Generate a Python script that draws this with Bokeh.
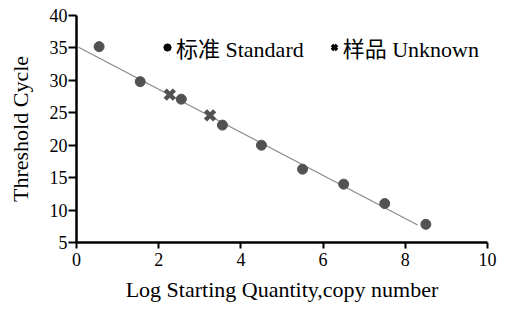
from bokeh.plotting import figure
from bokeh.models import Range1d, FixedTicker, ColumnDataSource, Legend, LegendItem
from bokeh.embed import file_html
from bokeh.resources import INLINE

# Standard curve points
std_x = [0.55, 1.55, 2.55, 3.55, 4.5, 5.5, 6.5, 7.5, 8.5]
std_y = [35.2, 29.8, 27.1, 23.1, 20.0, 16.3, 14.0, 11.0, 7.8]
# Unknown samples
unk_x = [2.27, 3.25]
unk_y = [27.8, 24.6]
# Regression line end points
fit_x = [0.05, 8.3]
fit_y = [35.1, 7.7]

x_ticks = [0, 2, 4, 6, 8, 10]
y_ticks = [5, 10, 15, 20, 25, 30, 35, 40]
labels = ["标准 Standard", "样品 Unknown"]

SERIF = "Liberation Serif"
LEGEND_FONT = "'Liberation Serif', 'Noto Sans CJK SC', serif"

p = figure(width=509, height=309, output_backend="svg", toolbar_location=None,
           x_range=Range1d(0, 10), y_range=Range1d(5, 40),
           min_border_left=76, min_border_right=22, min_border_top=15, min_border_bottom=67)
p.outline_line_color = None
p.xgrid.visible = False
p.ygrid.visible = False
p.background_fill_color = "white"

p.line(fit_x, fit_y, line_color="#8a8a8a", line_width=1.3)
p.scatter(std_x, std_y, marker="circle", size=10, fill_color="#525252", line_color="#525252")
p.scatter(unk_x, unk_y, marker="x", size=13, line_color="#525252", line_width=4.5)

# legend samples (black), drawn off-data
nan_src = ColumnDataSource(data=dict(x=[float("nan")], y=[float("nan")]))
r1 = p.scatter("x", "y", source=nan_src, marker="circle", fill_color="black", line_color="black")
r2 = p.scatter("x", "y", source=nan_src, marker="x", line_color="black", line_width=3.5)
legend = Legend(items=[LegendItem(label=labels[0], renderers=[r1]),
                       LegendItem(label=labels[1], renderers=[r2])],
                orientation="horizontal", location=(82, 179),
                border_line_color=None, background_fill_alpha=0,
                label_text_font=LEGEND_FONT, label_text_font_size="22px",
                label_text_color="black",
                glyph_width=18, glyph_height=22, label_standoff=0,
                spacing=21, padding=0, margin=0, label_height=22)
p.add_layout(legend, "center")

for ax in (p.xaxis[0], p.yaxis[0]):
    ax.axis_line_width = 2.5
    ax.axis_line_color = "black"
    ax.major_tick_line_width = 2
    ax.major_tick_line_color = "black"
    ax.minor_tick_line_color = None
    ax.major_tick_in = 0
    ax.major_label_text_font = SERIF
    ax.major_label_text_font_size = "18px"
    ax.major_label_text_color = "black"
    ax.axis_label_text_font = SERIF
    ax.axis_label_text_font_size = "22px"
    ax.axis_label_text_font_style = "normal"
    ax.axis_label_text_color = "black"

p.xaxis.ticker = FixedTicker(ticks=x_ticks)
p.yaxis.ticker = FixedTicker(ticks=y_ticks)
p.xaxis.major_tick_out = 6
p.yaxis.major_tick_out = 8
p.xaxis.major_label_standoff = 4
p.yaxis.major_label_standoff = 1
p.xaxis.axis_label = "Log Starting Quantity,copy number"
p.yaxis.axis_label = "Threshold Cycle"
p.xaxis.axis_label_standoff = 8
p.yaxis.axis_label_standoff = 14

open("out.html", "w").write(file_html(p, INLINE))
